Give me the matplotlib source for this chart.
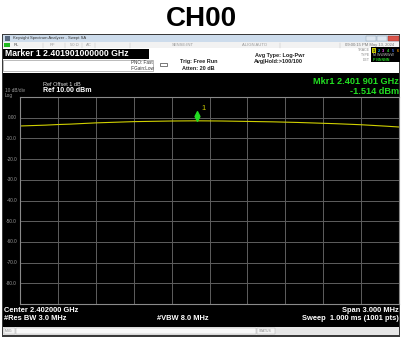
import numpy as np
import matplotlib
matplotlib.use("Agg")
import matplotlib.pyplot as plt
from matplotlib.patches import Rectangle
from matplotlib.path import Path
import matplotlib.transforms as mtransforms

plt.rcParams['font.family'] = ['Liberation Sans', 'DejaVu Sans']

# Sweep settings
center_ghz = 2.402
span_mhz = 3.0
ref_level = 10.0
db_per_div = 10.0

# Trace (offset from center in MHz, level in dBm)
offset_mhz = [-1.5, -1.4, -1.3, -1.2, -1.1, -1.0, -0.9, -0.8, -0.7, -0.6, -0.5,
              -0.4, -0.3, -0.2, -0.1, 0.0, 0.1, 0.2, 0.3, 0.4, 0.5, 0.6,
              0.7, 0.8, 0.9, 1.0, 1.1, 1.2, 1.3, 1.4, 1.5]
level_dbm = [-4.0, -3.8, -3.6, -3.3, -3.1, -2.8, -2.5, -2.3, -2.1, -1.9, -1.8,
             -1.7, -1.6, -1.55, -1.51, -1.55, -1.6, -1.7, -1.8, -1.9, -2.0, -2.15,
             -2.3, -2.5, -2.7, -2.9, -3.15, -3.4, -3.75, -4.1, -4.5]

# Marker 1
mkr_ghz = 2.401901
mkr_dbm = -1.514

y_ticks = [0, -10, -20, -30, -40, -50, -60, -70, -80]
y_tick_labels = ["0.00", "-10.0", "-20.0", "-30.0", "-40.0", "-50.0", "-60.0", "-70.0", "-80.0"]

W, H = 402, 338
fig = plt.figure(figsize=(W / 100, H / 100), dpi=100)
fig.patch.set_facecolor("white")

# background layer in pixel coordinates for the analyzer window chrome
bg = fig.add_axes([0, 0, 1, 1])
bg.set_xlim(0, W)
bg.set_ylim(H, 0)
bg.axis("off")

def box(x, y, w, h, fc, ec="none", lw=0.5):
    bg.add_patch(Rectangle((x, y), w, h, facecolor=fc, edgecolor=ec, linewidth=lw))

def txt(x, y, s, size=4, color="#222222", weight="normal", ha="left"):
    bg.text(x, y, s, fontsize=size, color=color, fontweight=weight, ha=ha, va="center")

fig.text(0.5, 1 - 19 / H, "CH00", fontsize=20, fontweight="heavy", ha="center", va="center")

# window frame
box(2, 34, 398, 303, "#3a3a3a")
# title bar
box(3, 35, 396, 7, "#cddcec")
box(5, 36, 5, 5, "#5a6a80")
txt(13, 38.5, "Keysight Spectrum Analyzer - Swept SA", size=3, color="#333333")
box(366, 36, 10, 5, "#dde6f0", ec="#8899aa", lw=0.3)
box(377, 36, 10, 5, "#dde6f0", ec="#8899aa", lw=0.3)
box(388, 36, 11, 5, "#d9534a", ec="#993322", lw=0.3)
# status row
box(3, 42, 396, 6, "#f2f2f2")
box(4, 43, 6, 4, "#22bb22")
txt(14, 45, "RL", size=3, color="#444444")
txt(50, 45, "RF", size=3, color="#999999")
txt(70, 45, "50 \u03a9", size=3, color="#999999")
txt(86, 45, "AC", size=3, color="#999999")
txt(172, 45, "SENSE:INT", size=3, color="#999999")
txt(242, 45, "ALIGN AUTO", size=3, color="#999999")
txt(345, 45, "09:00:15 PM May 13, 2024", size=3, color="#777777")
for sx in [43, 65, 82, 95, 130, 280, 340]:
    bg.plot([sx, sx], [42.5, 47.5], color="#bbbbbb", lw=0.3)
# header area
box(3, 48, 396, 25, "#ffffff")
box(3, 49, 146, 10, "#000000")
txt(5, 54, "Marker 1 2.401901000000 GHz", size=6.2, color="white", weight="bold")
box(3, 60, 150, 11, "#ffffff", ec="#888888", lw=0.4)
txt(131, 63, "PNO: Fast", size=3.3, color="#333333")
txt(131, 68, "IFGain:Low", size=3.3, color="#333333")
bg.add_patch(Rectangle((160, 63), 7, 3, facecolor="white", edgecolor="#444444", linewidth=0.5))
txt(180, 62, "Trig: Free Run", size=4, color="#222222", weight="bold")
txt(182, 68, "Atten: 20 dB", size=4, color="#222222", weight="bold")
txt(255, 55, "Avg Type: Log-Pwr", size=4, color="#222222", weight="bold")
txt(254, 62, "Avg|Hold:>100/100", size=4, color="#222222", weight="bold")
# trace info box
txt(370, 50, "TRACE", size=2.6, color="#888888", ha="right")
txt(370, 55, "TYPE", size=2.6, color="#888888", ha="right")
txt(370, 60, "DET", size=2.6, color="#888888", ha="right")
box(371, 47, 29, 15, "#000000")
box(372, 48, 4, 4.5, "#cccc00")
trace_cols = ["#111111", "#00bbff", "#ff55ff", "#33cc33", "#4477ff", "#dd8800"]
for i, c in enumerate(trace_cols):
    txt(373 + i * 4.7, 50.5, str(i + 1), size=2.8, color=c, weight="bold")
txt(373, 55.5, "M WWWWW", size=2.6, color="#bbbbbb")
txt(373, 60, "P NNNNN", size=2.6, color="#22cc22", weight="bold")

# black screen
box(3, 73, 396, 254, "#000000")
txt(5, 90, "10 dB/div", size=3.4, color="#9a9a9a")
txt(5, 95, "Log", size=3.4, color="#9a9a9a")
txt(43, 84, "Ref Offset 1 dB", size=4, color="#dddddd")
txt(43, 91, "Ref 10.00 dBm", size=5, color="white", weight="bold")
txt(399, 82, "Mkr1 2.401 901 GHz", size=6.6, color="#22dd22", weight="bold", ha="right")
txt(399, 91, "-1.514 dBm", size=6.6, color="#22dd22", weight="bold", ha="right")
txt(4, 310, "Center 2.402000 GHz", size=5.4, color="white", weight="bold")
txt(4, 319, "#Res BW 3.0 MHz", size=5.4, color="white", weight="bold")
txt(157, 319, "#VBW 8.0 MHz", size=5.4, color="white", weight="bold")
txt(399, 310, "Span 3.000 MHz", size=5.4, color="white", weight="bold", ha="right")
txt(399, 319, "Sweep  1.000 ms (1001 pts)", size=5.4, color="white", weight="bold", ha="right")
# bottom message bar
box(3, 327, 396, 8, "#e6e6e6")
box(4, 328, 11, 6, "#f4f4f4", ec="#aaaaaa", lw=0.3)
txt(5, 331, "MSG", size=2.4, color="#888888")
box(16, 328, 240, 6, "#f8f8f8", ec="#aaaaaa", lw=0.3)
box(257, 328, 18, 6, "#f4f4f4", ec="#aaaaaa", lw=0.3)
txt(259, 331, "STATUS", size=2.4, color="#888888")

# trace graticule
x0, x1, ytop, ybot = 20, 399, 97, 304
ax = fig.add_axes([x0 / W, 1 - ybot / H, (x1 - x0) / W, (ybot - ytop) / H])
ax.set_facecolor("black")
f_start = center_ghz - span_mhz / 2000
f_stop = center_ghz + span_mhz / 2000
ax.set_xlim(f_start, f_stop)
ax.set_ylim(ref_level - 10 * db_per_div, ref_level)
ax.set_xticks(np.linspace(f_start, f_stop, 11))
ax.set_yticks(np.arange(ref_level - 10 * db_per_div, ref_level + 1, db_per_div))
ax.grid(True, color="#5e5e5e", linewidth=0.7)
ax.tick_params(length=0, labelbottom=False, labelleft=False)
for s in ax.spines.values():
    s.set_color("#8a8a8a")
    s.set_linewidth(0.8)

freqs = [center_ghz + o / 1000 for o in offset_mhz]
ax.plot(freqs, level_dbm, color="#d0d000", linewidth=0.8)

for v, lab in zip(y_ticks, y_tick_labels):
    ax.text(-0.008, v, lab, transform=ax.get_yaxis_transform(), fontsize=3.4,
            color="#9a9a9a", ha="right", va="center")

# marker diamond sits just above the trace point
diamond = Path([(0, 1), (0.5, 0), (0, -1), (-0.5, 0), (0, 1)],
               [Path.MOVETO, Path.LINETO, Path.LINETO, Path.LINETO, Path.CLOSEPOLY])
mk_tr = mtransforms.offset_copy(ax.transData, fig=fig, y=5, units="dots")
ax.plot([mkr_ghz], [mkr_dbm], marker=diamond, markersize=7, color="#22dd22",
        transform=mk_tr, linestyle="none")
ax.annotate("1", xy=(mkr_ghz, mkr_dbm), xytext=(3, 9), textcoords="offset points",
            fontsize=5.5, color="#cccc00", ha="left", va="center")

fig.savefig("out.png", dpi=100, facecolor="white")
